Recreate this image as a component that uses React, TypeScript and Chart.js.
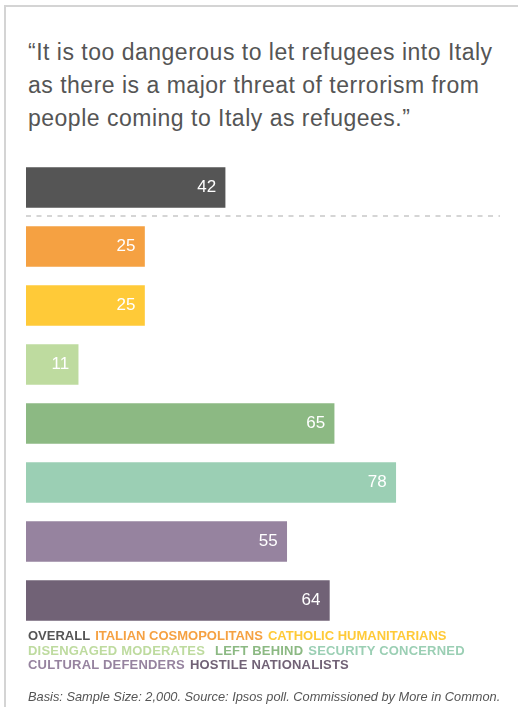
import React, { useEffect, useRef } from "react";
import { Chart, registerables } from "chart.js";

Chart.register(...registerables);

const categories = [
  "Overall",
  "Italian Cosmopolitans",
  "Catholic Humanitarians",
  "Disengaged Moderates",
  "Left Behind",
  "Security Concerned",
  "Cultural Defenders",
  "Hostile Nationalists",
];
const values = [42, 25, 25, 11, 65, 78, 55, 64];
const colors = [
  "#555555",
  "#F5A142",
  "#FFCA38",
  "#BEDB9F",
  "#8CB983",
  "#9BCFB4",
  "#96839F",
  "#716276",
];
const legendLines = [
  ["OVERALL", "ITALIAN COSMOPOLITANS", "CATHOLIC HUMANITARIANS"],
  ["DISENGAGED MODERATES", "LEFT BEHIND", "SECURITY CONCERNED"],
  ["CULTURAL DEFENDERS", "HOSTILE NATIONALISTS"],
];
const legendColors = [
  ["#555555", "#F5A142", "#FFCA38"],
  ["#BEDB9F", "#8CB983", "#9BCFB4"],
  ["#96839F", "#716276"],
];
const legendGaps = [
  [5, 5, 0],
  [10, 5, 0],
  [5, 0],
];
const legendSpacing = [0, 0.2, 0.2];
const titleLines = [
  "\u201CIt is too dangerous to let refugees into Italy",
  "as there is a major threat of terrorism from",
  "people coming to Italy as refugees.\u201D",
];
const footer =
  "Basis: Sample Size: 2,000. Source: Ipsos poll. Commissioned by More in Common.";

const FONT = '"Liberation Sans", Arial, Helvetica, sans-serif';

const extrasPlugin = {
  id: "extras",
  afterDatasetsDraw(chart: any) {
    const ctx = chart.ctx;
    const meta = chart.getDatasetMeta(0);
    const y = chart.scales.y;
    const area = chart.chartArea;
    // dashed separator after "Overall"
    const ySep = (y.getPixelForValue(0) + y.getPixelForValue(1)) / 2 - 1;
    ctx.save();
    ctx.strokeStyle = "#c8c8c8";
    ctx.lineWidth = 1.5;
    ctx.setLineDash([5, 5.5]);
    ctx.beginPath();
    ctx.moveTo(area.left, ySep);
    ctx.lineTo(area.right + 2, ySep);
    ctx.stroke();
    ctx.restore();
    // value labels
    ctx.save();
    ctx.fillStyle = "#ffffff";
    ctx.font = `17px ${FONT}`;
    ctx.textAlign = "right";
    ctx.textBaseline = "middle";
    meta.data.forEach((bar: any, i: number) => {
      ctx.fillText(String(values[i]), bar.x - 9, bar.y);
    });
    ctx.restore();
  },
};

export default function App() {
  const ref = useRef<HTMLCanvasElement>(null);
  useEffect(() => {
    if (!ref.current) return;
    const chart = new Chart(ref.current, {
      type: "bar",
      data: {
        labels: categories,
        datasets: [
          {
            data: values,
            backgroundColor: colors,
            barThickness: 40,
            borderWidth: 0,
          },
        ],
      },
      options: {
        indexAxis: "y",
        responsive: false,
        animation: false,
        devicePixelRatio: 1,
        layout: { padding: 0 },
        plugins: {
          legend: { display: false },
          tooltip: { enabled: false },
        },
        scales: {
          x: { display: false, min: 0, max: 100 },
          y: { display: false },
        },
      },
      plugins: [extrasPlugin],
    });
    return () => chart.destroy();
  }, []);

  return (
    <div
      style={{
        position: "absolute",
        left: 0,
        top: 0,
        width: 518,
        height: 707,
        overflow: "hidden",
        background: "#ffffff",
        fontFamily: FONT,
      }}
    >
      <div
        style={{
          position: "absolute",
          left: 4,
          top: 5,
          width: 514,
          height: 702,
          borderTop: "2px solid #d4d4d4",
          borderLeft: "2px solid #d4d4d4",
          boxSizing: "border-box",
        }}
      />
      <div
        style={{
          position: "absolute",
          left: 28,
          top: 36,
          fontSize: 23,
          letterSpacing: 0.5,
          lineHeight: "33px",
          color: "#555555",
          whiteSpace: "nowrap",
        }}
      >
        {titleLines.map((l, i) => (
          <div key={i}>{l}</div>
        ))}
      </div>
      <canvas
        ref={ref}
        width={474}
        height={472}
        style={{ position: "absolute", left: 26, top: 158, width: 474, height: 472 }}
      />
      <div
        style={{
          position: "absolute",
          left: 28,
          top: 629,
          fontSize: 13,
          fontWeight: "bold",
          lineHeight: "14.5px",
          whiteSpace: "nowrap",
        }}
      >
        {legendLines.map((line, i) => (
          <div key={i} style={{ letterSpacing: legendSpacing[i] }}>
            {line.map((t, j) => (
              <span
                key={j}
                style={{
                  color: legendColors[i][j],
                  marginRight: legendGaps[i][j],
                  display: "inline-block",
                }}
              >
                {t}
              </span>
            ))}
          </div>
        ))}
      </div>
      <div
        style={{
          position: "absolute",
          left: 28,
          top: 690,
          fontSize: 12.8,
          lineHeight: "14px",
          fontStyle: "italic",
          color: "#555555",
          whiteSpace: "nowrap",
        }}
      >
        {footer}
      </div>
    </div>
  );
}
